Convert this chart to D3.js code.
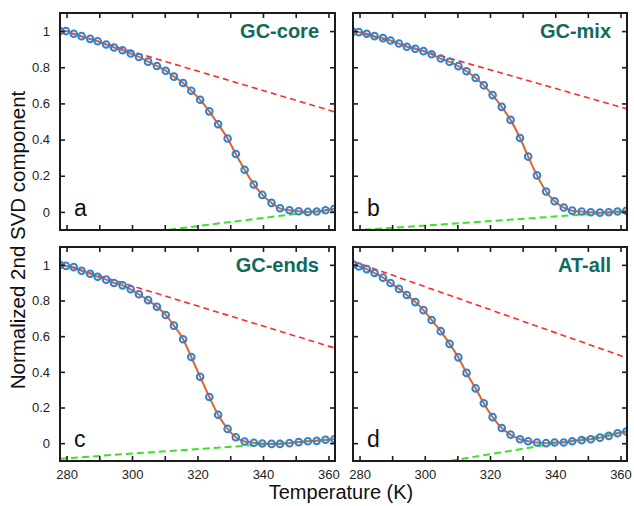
<!DOCTYPE html>
<html>
<head>
<meta charset="utf-8">
<script src="https://cdn.jsdelivr.net/npm/d3@7"></script>
<style>
  html, body { margin: 0; padding: 0; background: #fff; }
  svg { display: block; font-family: "Liberation Sans", Arial, sans-serif; }
</style>
</head>
<body>
<svg id="chart" width="634" height="506"></svg>
<script>
// Temperatures (K) at which the second SVD component was sampled
const temps = [278, 279.8, 282.2, 284.6, 287.2, 289.5, 292.1, 294.5, 297.1, 299.6,
  302.1, 304.9, 307.6, 310.3, 312.8, 315.6, 318.1, 320.8, 323.6, 326.3,
  329.2, 331.7, 334.4, 337.2, 339.8, 342.6, 345.2, 348.1, 350.9, 353.7,
  356.4, 359.1, 361.8];

// Normalized 2nd SVD component for each construct
const gcCore = [1.0, 1.0, 0.985, 0.972, 0.957, 0.944, 0.926, 0.909, 0.894, 0.876,
  0.857, 0.831, 0.807, 0.781, 0.748, 0.713, 0.670, 0.620, 0.556, 0.485,
  0.406, 0.320, 0.233, 0.152, 0.094, 0.050, 0.020, 0.009, 0.004, 0.0,
  0.002, 0.009, 0.017];
const gcMix = [0.996, 0.994, 0.985, 0.972, 0.961, 0.948, 0.931, 0.913, 0.902, 0.889,
  0.872, 0.848, 0.830, 0.806, 0.778, 0.741, 0.700, 0.646, 0.581, 0.509,
  0.409, 0.306, 0.202, 0.113, 0.059, 0.024, 0.007, 0.002, -0.002, -0.004,
  -0.002, 0.002, 0.006];
const gcEnds = [1.0, 0.994, 0.987, 0.967, 0.950, 0.933, 0.917, 0.898, 0.885, 0.863,
  0.835, 0.802, 0.765, 0.719, 0.659, 0.583, 0.483, 0.372, 0.259, 0.159,
  0.080, 0.033, 0.009, 0.002, -0.002, -0.004, -0.004, 0.0, 0.006, 0.011,
  0.013, 0.019, 0.022];
const atAll = [1.002, 0.991, 0.976, 0.954, 0.928, 0.898, 0.865, 0.831, 0.791, 0.746,
  0.691, 0.628, 0.557, 0.481, 0.394, 0.307, 0.224, 0.146, 0.085, 0.048,
  0.022, 0.011, 0.004, 0.0, 0.004, 0.004, 0.011, 0.017, 0.022, 0.031,
  0.041, 0.056, 0.065];

// Folded (upper) and unfolded (lower) baselines, as [T, value] end points
const upperBase = {
  a: [[278, 1.005], [362, 0.553]],
  b: [[278, 1.002], [362, 0.570]],
  c: [[278, 1.006], [362, 0.533]],
  d: [[278, 1.020], [362, 0.478]]
};
const lowerBase = {
  a: [[278, -0.173], [362, 0.016]],
  b: [[278, -0.103], [362, 0.002]],
  c: [[278, -0.087], [362, 0.021]],
  d: [[278, -0.189], [362, 0.065]]
};

const panelNames = ["GC-core", "GC-mix", "GC-ends", "AT-all"];
const panelLetters = ["a", "b", "c", "d"];
const xTicks = [280, 290, 300, 310, 320, 330, 340, 350, 360];
const xTickLabels = ["280", "", "300", "", "320", "", "340", "", "360"];
const yTicks = [0, 0.2, 0.4, 0.6, 0.8, 1];
const yTickLabels = ["0", "0.2", "0.4", "0.6", "0.8", "1"];

const series = [gcCore, gcMix, gcEnds, atAll];

// Panel rectangles in page pixels
const cols = [{ x0: 60, x1: 335 }, { x0: 353, x1: 627 }];
const rows = [{ y0: 13, y1: 230 }, { y0: 247, y1: 461 }];

const svg = d3.select("#chart");
const ink = "#1c1c1c";

series.forEach((vals, i) => {
  const col = cols[i % 2], row = rows[Math.floor(i / 2)];
  const key = panelLetters[i];
  const x = d3.scaleLinear().domain([278, 362]).range([col.x0, col.x1]);
  const y = d3.scaleLinear().domain([-0.1, 1.1]).range([row.y1, row.y0]);
  const w = col.x1 - col.x0, h = row.y1 - row.y0;

  const g = svg.append("g");
  const clipId = "clip-" + key;
  svg.append("clipPath").attr("id", clipId)
    .append("rect").attr("x", col.x0).attr("y", row.y0).attr("width", w).attr("height", h);

  const plot = g.append("g").attr("clip-path", `url(#${clipId})`);
  const line = d3.line().x(d => x(d[0])).y(d => y(d[1]));

  // baselines
  plot.append("path").datum(upperBase[key]).attr("d", line)
    .attr("fill", "none").attr("stroke", "#ff2b2b").attr("stroke-width", 1.6)
    .attr("stroke-dasharray", "6,4");
  plot.append("path").datum(lowerBase[key]).attr("d", line)
    .attr("fill", "none").attr("stroke", "#3ee02a").attr("stroke-width", 2)
    .attr("stroke-dasharray", "7,4");

  // fitted transition curve
  const pts = temps.map((t, k) => [t, vals[k]]);
  plot.append("path").datum(pts)
    .attr("d", d3.line().x(d => x(d[0])).y(d => y(d[1])).curve(d3.curveMonotoneX))
    .attr("fill", "none").attr("stroke", "#e4632a").attr("stroke-width", 2);

  // measured points
  plot.selectAll("circle").data(pts).join("circle")
    .attr("cx", d => x(d[0])).attr("cy", d => y(d[1])).attr("r", 3.3)
    .attr("fill", "none").attr("stroke", "#2e83d3").attr("stroke-width", 2);

  // inward ticks on all four sides
  const tickLen = 5;
  const axB = d3.axisBottom(x).tickValues(xTicks).tickSizeInner(-tickLen).tickSizeOuter(0)
    .tickFormat((d, k) => row === rows[1] ? xTickLabels[k] : "");
  const axT = d3.axisTop(x).tickValues(xTicks).tickSizeInner(-tickLen).tickSizeOuter(0).tickFormat("");
  const axL = d3.axisLeft(y).tickValues(yTicks).tickSizeInner(-tickLen).tickSizeOuter(0)
    .tickFormat((d, k) => col === cols[0] ? yTickLabels[k] : "");
  const axR = d3.axisRight(y).tickValues(yTicks).tickSizeInner(-tickLen).tickSizeOuter(0).tickFormat("");

  const styleAxis = sel => {
    sel.select(".domain").remove();
    sel.selectAll("line").attr("stroke", ink).attr("stroke-width", 1.6);
    sel.selectAll("text").attr("fill", "#222").attr("font-size", 13)
      .attr("font-family", "'Liberation Sans', Arial, sans-serif");
  };
  g.append("g").attr("transform", `translate(0,${row.y1})`).call(axB).call(styleAxis)
    .selectAll("text").attr("dy", "1.15em");
  g.append("g").attr("transform", `translate(0,${row.y0})`).call(axT).call(styleAxis);
  g.append("g").attr("transform", `translate(${col.x0},0)`).call(axL).call(styleAxis)
    .selectAll("text").attr("x", -10);
  g.append("g").attr("transform", `translate(${col.x1},0)`).call(axR).call(styleAxis);

  // frame
  g.append("rect").attr("x", col.x0).attr("y", row.y0).attr("width", w).attr("height", h)
    .attr("fill", "none").attr("stroke", ink).attr("stroke-width", 2);

  // labels
  g.append("text").attr("x", col.x1 - 16).attr("y", row.y0 + 25)
    .attr("text-anchor", "end").attr("font-size", 20).attr("font-weight", "bold")
    .attr("fill", "#0f6a5f").text(panelNames[i]);
  g.append("text").attr("x", col.x0 + 14).attr("y", row.y1 - 14)
    .attr("font-size", 23).attr("fill", "#111").text(panelLetters[i]);
});

// axis titles
svg.append("text").attr("transform", "translate(25,240) rotate(-90)")
  .attr("text-anchor", "middle").attr("font-size", 20.5).attr("fill", "#111")
  .text("Normalized 2nd SVD component");
svg.append("text").attr("x", 341).attr("y", 499)
  .attr("text-anchor", "middle").attr("font-size", 20).attr("fill", "#111")
  .text("Temperature (K)");
</script>
</body>
</html>
